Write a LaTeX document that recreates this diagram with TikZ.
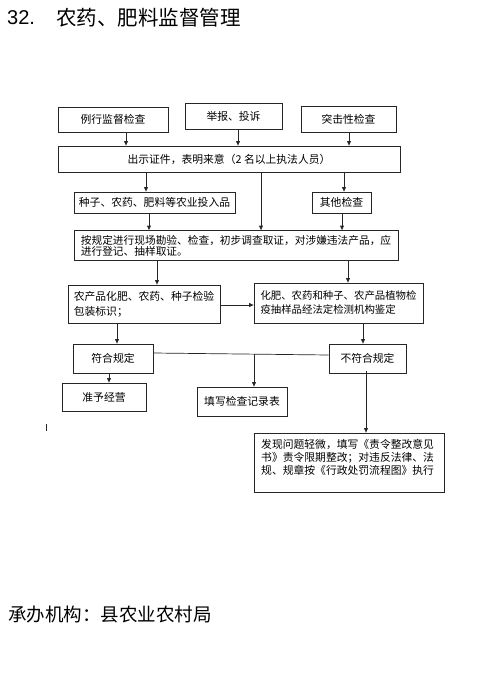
\documentclass[tikz,border=0pt]{standalone}
\usepackage{fontspec}
\setmainfont{Noto Sans CJK SC}
\newfontfamily\latinsans{Liberation Sans}
\usetikzlibrary{arrows.meta}
\begin{document}
\begin{tikzpicture}[x=1pt,y=-1pt,
  box/.style={draw=black!85,line width=0.7pt,inner sep=0pt,font=\fontsize{10.8}{13}\selectfont,align=center},
  arr/.style={draw=black!85,line width=0.7pt,-{Triangle[length=4.5pt,width=3.8pt]}},
  ln/.style={draw=black!85,line width=0.7pt}]
\useasboundingbox[fill=white] (0,0) rectangle (501,680);
% title
\node[anchor=west,inner sep=0pt,font=\latinsans\fontsize{20}{22}\selectfont] (num) at (7,18) {32.};
\node[anchor=west,inner sep=0pt,font=\fontsize{20.5}{22}\selectfont] (title) at (56,18) {农药、肥料监督管理};
% row 1
\node[box,minimum width=110pt,minimum height=25pt] (r1) at (113,119.5) {例行监督检查};
\node[box,minimum width=97pt,minimum height=26pt] (r2) at (233.5,116) {举报、投诉};
\node[box,minimum width=95pt,minimum height=26pt] (r3) at (348.5,119) {突击性检查};
% row 2
\node[box,minimum width=342pt,minimum height=26pt] (show) at (229,159) {出示证件，表明来意（2 名以上执法人员）};
% row 3
\node[box,minimum width=161pt,minimum height=21pt] (seed) at (154.5,202.5) {种子、农药、肥料等农业投入品};
\node[box,minimum width=59pt,minimum height=21pt] (other) at (341.5,202.5) {其他检查};
% row 4
\node[box,minimum width=324pt,minimum height=30pt,align=left,font=\fontsize{10.7}{9.5}\selectfont] (rule) at (236,245.5) {按规定进行现场勘验、检查，初步调查取证，对涉嫌违法产品，应\\进行登记、抽样取证。};
% row 5
\node[box,minimum width=152pt,minimum height=38pt,align=left,font=\fontsize{10.8}{15}\selectfont] (agri) at (144,304) {农产品化肥、农药、种子检验\\包装标识；};
\node[box,minimum width=169pt,minimum height=40pt,align=left,font=\fontsize{10.4}{14}\selectfont] (lab) at (338.5,303) {化肥、农药和种子、农产品植物检\\疫抽样品经法定检测机构鉴定};
% row 6
\node[box,minimum width=80pt,minimum height=29pt] (ok) at (113,358.5) {符合规定};
\node[box,minimum width=77pt,minimum height=29pt] (nok) at (367.5,358.5) {不符合规定};
% row 7
\node[box,minimum width=84pt,minimum height=28pt] (permit) at (104,397) {准予经营};
\node[box,minimum width=90pt,minimum height=29pt] (record) at (242,401.5) {填写检查记录表};
% row 8
\node[box,minimum width=190pt,minimum height=59pt] (handle) at (349,462.5) {};
\node[anchor=north west,inner sep=0pt,align=left,font=\fontsize{10.8}{13}\selectfont] (handletext) at (261,439.5) {发现问题轻微，填写《责令整改意见\\书》责令限期整改；对违反法律、法\\规、规章按《行政处罚流程图》执行};
% stray mark
\coordinate (m1) at (46.5,424);
\coordinate (m2) at (46.5,431);
\draw[ln,line width=0.9pt] (m1) -- (m2);
% footer
\node[anchor=west,inner sep=0pt,font=\fontsize{18.5}{20}\selectfont] (footer) at (8,614) {承办机构：县农业农村局};
% connectors
\draw[arr] ([xshift=13pt]r1.south) -- ([xshift=13pt]r1.south |- show.north);
\draw[arr] ([xshift=4.5pt]r2.south) -- ([xshift=4.5pt]r2.south |- show.north);
\draw[arr] ([xshift=0.5pt]r3.south) -- ([xshift=0.5pt]r3.south |- show.north);
\draw[arr] (show.south -| 146,0) -- (seed.north -| 146,0);
\draw[arr] (show.south -| 261,0) -- (rule.north -| 261,0);
\draw[arr] (show.south -| 344,0) -- (other.north -| 344,0);
\draw[arr] (seed.south -| 149,0) -- (rule.north -| 149,0);
\draw[arr] (other.south -| 342,0) -- (rule.north -| 342,0);
\draw[arr] (rule.south -| 157,0) -- (agri.north -| 157,0);
\draw[arr] (rule.south -| 348,0) -- (lab.north -| 348,0);
\draw[arr] (agri.east |- 0,305) -- (lab.west |- 0,305);
\draw[arr] (agri.south -| 117,0) -- (ok.north -| 117,0);
\draw[arr] (lab.south -| 363,0) -- (nok.north -| 363,0);
\draw[arr] (ok.south -| 109,0) -- (permit.north -| 109,0);
\coordinate (j1) at (ok.east |- 0,353);
\coordinate (j2) at (nok.west |- 0,355);
\draw[ln] (j1) -- (j2);
\coordinate (j3) at (254,354);
\draw[arr] (j3) -- (record.north -| 254,0);
\draw[arr] ([yshift=2pt]nok.south -| 366,0) -- (handle.north -| 366,0);
\end{tikzpicture}
\end{document}
